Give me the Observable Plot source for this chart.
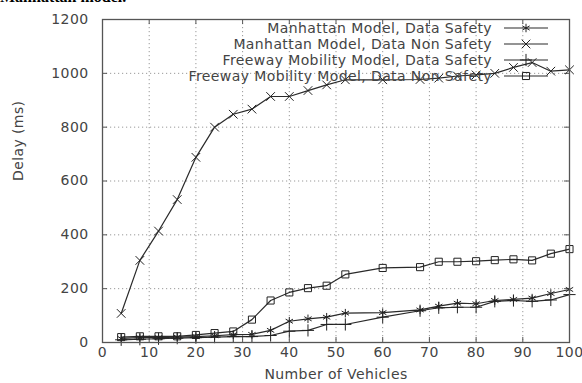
<!DOCTYPE html>
<html><head><meta charset="utf-8">
<script src="https://cdn.jsdelivr.net/npm/d3@7"></script>
<script src="https://cdn.jsdelivr.net/npm/@observablehq/plot@0.6"></script>
<style>
body{margin:0;background:#fff;}
#wrap{position:relative;width:582px;height:383px;overflow:hidden;background:#fff;}
#chart{position:absolute;left:0;top:0;}
#cut{position:absolute;left:0;top:-12px;font:bold 16px "Liberation Serif";color:#000;white-space:nowrap;}
</style></head><body>
<div id="wrap"><div id="chart"></div><div id="cut">Manhattan model.</div></div>
<script>
const vehicles = [4,8,12,16,20,24,28,32,36,40,44,48,52,60,68,72,76,80,84,88,92,96,100];
const seriesNames = ["Manhattan Model, Data Safety","Manhattan Model, Data Non Safety","Freeway Mobility Model, Data Safety","Freeway Mobility Model, Data Non Safety"];
const manhattanSafety    = [15,18,18,20,22,25,29,30,45,79,88,94,109,111,121,135,146,144,156,160,165,182,197];
const manhattanNonSafety = [108,305,414,531,688,800,848,867,914,914,936,957,976,976,977,982,990,994,1000,1022,1040,1008,1013];
const freewaySafety      = [10,12,14,16,18,20,22,22,26,42,45,67,67,94,118,129,131,131,153,156,153,158,178];
const freewayNonSafety   = [20,23,23,23,28,35,41,85,156,186,202,211,253,277,280,300,300,302,306,309,305,330,347];
const xTicks = [0,10,20,30,40,50,60,70,80,90,100];
const yTicks = [0,200,400,600,800,1000,1200];
const xLabel = "Number of Vehicles";
const yLabel = "Delay (ms)";
const symbolNames = ["asterisk","times","plus","square"];

const valuesBySeries = [manhattanSafety, manhattanNonSafety, freewaySafety, freewayNonSafety];
const rows = [];
seriesNames.forEach((name, s) => vehicles.forEach((v, i) => rows.push({x: v, y: valuesBySeries[s][i], key: name})));

const W = 582, H = 383, mL = 102, mR = 13, mT = 19, mB = 41;
const pw = W - mL - mR, ph = H - mT - mB;
const font = '"DejaVu Sans", sans-serif';
const textColor = "#444";

const chart = Plot.plot({
  width: W, height: H,
  marginLeft: mL, marginRight: mR, marginTop: mT, marginBottom: mB,
  style: {fontFamily: font, fontSize: "14px", color: textColor, background: "#fff", letterSpacing: "0.4px"},
  x: {domain: [0, 100]},
  y: {domain: [0, 1200]},
  symbol: {domain: seriesNames, range: symbolNames},
  marks: [
    Plot.gridX(xTicks.slice(1, -1), {stroke: "#999", strokeOpacity: 1, strokeDasharray: "1.2,2.8"}),
    Plot.gridY(yTicks.slice(1, -1), {stroke: "#999", strokeOpacity: 1, strokeDasharray: "1.2,2.8"}),
    Plot.tickX(xTicks, {x: d => d, insetTop: ph - 5, stroke: "#555"}),
    Plot.tickX(xTicks, {x: d => d, insetBottom: ph - 5, stroke: "#555"}),
    Plot.tickY(yTicks, {y: d => d, insetRight: pw - 5, stroke: "#555"}),
    Plot.tickY(yTicks, {y: d => d, insetLeft: pw - 5, stroke: "#555"}),
    Plot.axisX(xTicks, {tickSize: 0, tickPadding: 5, fill: textColor, label: null, tickFormat: d3.format("d")}),
    Plot.axisY(yTicks, {tickSize: 0, tickPadding: 14, fill: textColor, label: null, tickFormat: d3.format("d")}),
    Plot.text([xLabel], {frameAnchor: "bottom", dy: 36, text: d => d, fill: textColor, fontSize: 14}),
    Plot.text([yLabel], {frameAnchor: "left", dx: -84, rotate: -90, text: d => d, fill: textColor, fontSize: 14}),
    Plot.line(rows, {x: "x", y: "y", z: "key", stroke: "#2a2a2a", strokeWidth: 1.2}),
    Plot.dot(rows, {x: "x", y: "y", symbol: "key", r: 4, fill: "none", stroke: "#222", strokeWidth: 1}),
    Plot.frame({stroke: "#555", strokeWidth: 1.3})
  ]
});
document.getElementById("chart").appendChild(chart);

// legend (gnuplot style, inside top-right of the frame)
const svg = d3.select(chart);
const symbolTypes = {asterisk: d3.symbolAsterisk, times: d3.symbolTimes, plus: d3.symbolPlus, square: d3.symbolSquare};
const textRight = W - mR - 77, sampleL = W - mR - 65, sampleR = W - mR - 21, sampleMid = (sampleL + sampleR) / 2;
const lg = svg.append("g").attr("font-family", font).attr("font-size", 14).attr("letter-spacing", "0.4px");
seriesNames.forEach((name, i) => {
  const yy = mT + 9 + i * 16;
  lg.append("text").attr("x", textRight).attr("y", yy).attr("dy", "0.35em")
    .attr("text-anchor", "end").attr("fill", textColor).text(name);
  lg.append("line").attr("x1", sampleL).attr("x2", sampleR).attr("y1", yy).attr("y2", yy)
    .attr("stroke", "#2a2a2a").attr("stroke-width", 1.2);
  lg.append("path").attr("transform", `translate(${sampleMid},${yy})`)
    .attr("d", d3.symbol(symbolTypes[symbolNames[i]], Math.PI * 16)())
    .attr("fill", "none").attr("stroke", "#222");
});
</script>
</body></html>
